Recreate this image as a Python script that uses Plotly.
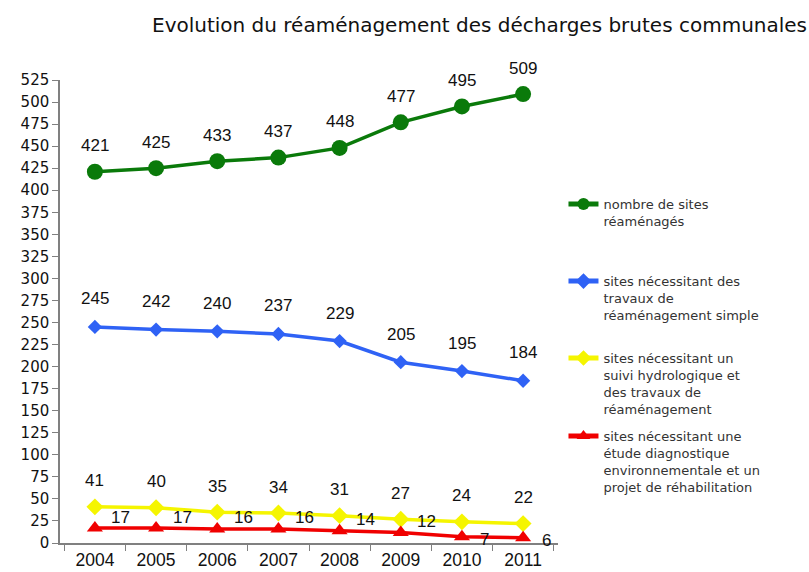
import plotly.graph_objects as go

years = ["2004", "2005", "2006", "2007", "2008", "2009", "2010", "2011"]
reamenages = [421, 425, 433, 437, 448, 477, 495, 509]
travaux_simples = [245, 242, 240, 237, 229, 205, 195, 184]
suivi_hydro = [41, 40, 35, 34, 31, 27, 24, 22]
etude_diag = [17, 17, 16, 16, 14, 12, 7, 6]

names = [
    "nombre de sites<br>réaménagés",
    "sites nécessitant des<br>travaux de<br>réaménagement simple",
    "sites nécessitant un<br>suivi hydrologique et<br>des travaux de<br>réaménagement",
    "sites nécessitant une<br>étude diagnostique<br>environnementale et un<br>projet de réhabilitation",
]

ARIAL = "Liberation Sans, Arial, sans-serif"
WIDE = "DejaVu Sans, Verdana, sans-serif"
label_font = dict(family=ARIAL, size=17, color="#111")

fig = go.Figure()

# (values, name, colour, marker, label x-shifts, label y-shifts, legend id)
series = [
    (reamenages, names[0], "#0a7a0a", dict(symbol="circle", size=16),
     [0] * 8, [26] * 8, "legend"),
    (travaux_simples, names[1], "#2f62f5", dict(symbol="diamond", size=11),
     [0] * 8, [28] * 8, "legend2"),
    (suivi_hydro, names[2], "#f5f500", dict(symbol="diamond", size=13),
     [0] * 8, [26] * 8, "legend3"),
    (etude_diag, names[3], "#f00000", dict(symbol="triangle-up", size=14),
     [26] * 6 + [23] * 2, [11] * 6 + [-3] * 2, "legend4"),
]

annotations = []
for vals, name, color, marker, xs, ys, leg in series:
    fig.add_trace(go.Scatter(
        x=years, y=vals, name=name, mode="lines+markers",
        line=dict(color=color, width=3.5),
        marker=dict(color=color, **marker),
        cliponaxis=False, legend=leg,
    ))
    # value labels, placed on the category index of each year
    for i, (v, dx, dy) in enumerate(zip(vals, xs, ys)):
        annotations.append(dict(
            x=i, y=v, xref="x", yref="y", text=str(v), showarrow=False,
            xanchor="center", yanchor="middle", xshift=dx, yshift=dy,
            font=label_font,
        ))

annotations.append(dict(
    text="Evolution du réaménagement des décharges brutes communales",
    xref="paper", yref="paper", x=0.181, y=1.119, xanchor="left", yanchor="middle",
    showarrow=False, font=dict(family=WIDE, size=20, color="#111"),
))

leg_common = dict(
    font=dict(family=WIDE, size=13, color="#333"),
    bgcolor="rgba(0,0,0,0)", xanchor="left", yanchor="top",
    valign="top", itemwidth=30, tracegroupgap=0, itemsizing="constant",
)
fig.update_layout(
    width=809, height=572,
    margin=dict(l=60, r=251, t=80, b=29, autoexpand=False),
    paper_bgcolor="white", plot_bgcolor="white",
    showlegend=True,
    legend=dict(x=1.011, y=0.7646, **leg_common),
    legend2=dict(x=1.011, y=0.598, **leg_common),
    legend3=dict(x=1.011, y=0.432, **leg_common),
    legend4=dict(x=1.011, y=0.2635, **leg_common),
    annotations=annotations,
)
fig.update_xaxes(
    type="category", categoryorder="array", categoryarray=years,
    showgrid=False, showline=True, linecolor="#808080", linewidth=1.5,
    ticks="outside", tickson="boundaries", ticklen=6, tickcolor="#808080",
    tickfont=dict(family=ARIAL, size=17.5, color="#111"), automargin=False,
)
fig.update_yaxes(
    range=[0, 525], dtick=25, showgrid=False, showline=True, linecolor="#808080",
    linewidth=1.5, ticks="outside", ticklen=6, tickcolor="#808080", zeroline=False,
    tickfont=dict(family=WIDE, size=15, color="#111"), automargin=False,
)

fig.write_html("out.html")
